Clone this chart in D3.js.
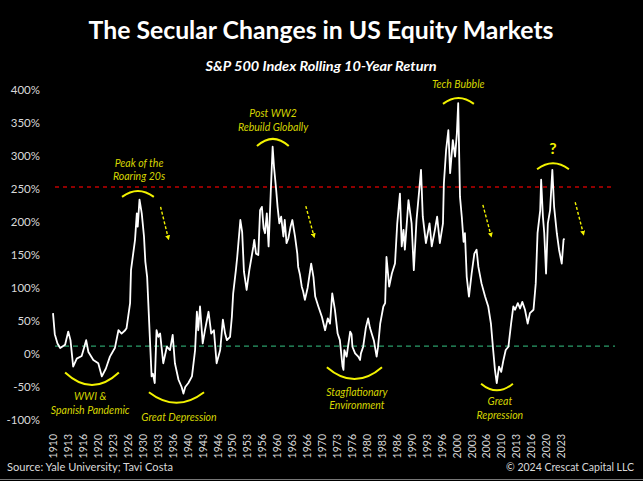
<!DOCTYPE html>
<html><head><meta charset="utf-8">
<script src="https://cdn.jsdelivr.net/npm/d3@7/dist/d3.min.js"></script>
<style>html,body{margin:0;padding:0;background:#000;}svg{display:block;}</style>
</head><body>
<script>
// ---- data ----
const years = [1910.0,1910.4,1911.0,1911.6,1912.7,1913.4,1913.9,1914.5,1915.3,1916.4,1917.4,1917.9,1919.0,1920.1,1920.9,1921.8,1922.7,1923.8,1924.6,1925.3,1926.1,1926.4,1927.2,1927.4,1928.3,1928.7,1928.9,1929.3,1929.8,1930.3,1930.6,1931.0,1931.6,1932.0,1932.3,1932.7,1933.1,1933.5,1933.9,1934.6,1935.4,1936.1,1936.7,1937.2,1938.0,1938.7,1939.1,1939.5,1940.2,1941.0,1941.7,1942.1,1942.4,1942.8,1943.4,1943.9,1944.7,1945.3,1945.9,1946.5,1947.3,1947.9,1948.4,1948.8,1949.5,1949.9,1950.2,1950.8,1951.1,1951.8,1952.2,1952.6,1953.2,1953.8,1954.3,1954.7,1954.9,1955.3,1955.8,1956.2,1956.6,1957.0,1957.3,1957.7,1958.1,1958.6,1959.0,1959.3,1959.8,1960.1,1960.5,1960.9,1961.4,1961.7,1962.1,1962.5,1963.0,1963.4,1964.0,1964.5,1964.7,1965.1,1965.5,1965.8,1966.2,1966.8,1967.6,1968.1,1968.5,1969.2,1970.0,1970.7,1971.3,1971.8,1972.3,1972.9,1973.5,1974.0,1974.6,1974.8,1975.0,1975.5,1976.3,1976.6,1976.8,1977.4,1978.1,1978.5,1978.7,1979.2,1979.8,1980.3,1980.7,1981.1,1981.6,1982.2,1982.5,1983.0,1983.7,1984.1,1984.4,1985.0,1985.6,1986.3,1986.8,1987.4,1987.8,1988.2,1988.5,1989.3,1989.7,1990.0,1990.5,1991.1,1991.7,1992.1,1992.5,1993.2,1994.0,1994.5,1995.2,1995.7,1996.3,1997.0,1997.2,1997.7,1998.2,1998.6,1999.2,1999.7,2000.1,2000.4,2000.8,2001.2,2001.6,2001.9,2002.3,2002.8,2003.4,2004.0,2004.5,2004.9,2005.6,2006.4,2007.1,2007.7,2008.2,2008.6,2009.0,2009.5,2010.0,2010.5,2011.0,2011.6,2012.2,2012.7,2013.1,2013.7,2014.2,2014.7,2015.3,2015.9,2016.4,2017.2,2017.7,2018.1,2018.7,2018.9,2019.3,2019.6,2020.0,2020.4,2020.9,2021.4,2021.8,2022.4,2022.9,2023.5,2023.9,2024.1];
const returns = [62,30,16,9,14,34,21,-19,-7,-3,21,3,-9,-14,-34,-22,-4,9,36,31,36,39,77,127,173,213,193,234,213,178,140,117,26,-34,-30,-44,36,26,31,-14,11,6,29,-14,-39,-50,-60,-50,-44,-34,6,64,36,72,16,36,64,31,36,-14,6,52,31,21,26,56,92,127,147,203,185,125,97,127,147,163,173,152,150,218,223,190,183,213,163,248,314,284,248,223,198,208,178,203,168,175,193,203,178,152,132,120,102,95,82,100,137,117,87,72,56,36,54,46,92,67,31,21,-19,-24,6,-4,34,30,11,1,-4,-9,1,11,40,54,40,31,20,-4,10,46,72,77,147,102,122,137,198,243,163,188,158,233,213,198,127,203,248,279,208,168,198,163,188,208,168,198,258,309,339,274,324,299,334,380,238,208,170,183,117,87,122,152,158,132,107,87,72,46,6,-24,-44,-19,-27,-9,6,11,46,72,67,77,69,79,67,46,62,67,107,183,218,264,208,183,122,198,218,279,223,183,158,137,173,175];
const yTickValues = [-100,-50,0,50,100,150,200,250,300,350,400];
const xTickLabels = ["1910","1913","1916","1920","1923","1926","1930","1933","1936","1940","1943","1946","1950","1953","1956","1960","1963","1966","1970","1973","1976","1980","1983","1986","1990","1993","1996","2000","2003","2006","2010","2013","2016","2020","2023"];
const secularHigh = 253;
const secularLow = 12;

// annotations (data coordinates)
const arcs = [
  {x0:1925.4,x1:1932.5,yEnd:238,yApex:247},
  {x0:1912.7,x1:1924.7,yEnd:-28,yApex:-47},
  {x0:1931.4,x1:1943.7,yEnd:-58,yApex:-74},
  {x0:1955.5,x1:1962.6,yEnd:315,yApex:326},
  {x0:1971.1,x1:1983.4,yEnd:-20,yApex:-38},
  {x0:1997.0,x1:2003.9,yEnd:379,yApex:388},
  {x0:2005.5,x1:2012.6,yEnd:-45,yApex:-55},
  {x0:2018.0,x1:2025.1,yEnd:280,yApex:289}
];
const labels = [
  {x:1929.2,y:284,t:"Peak of the"},{x:1929.2,y:264,t:"Roaring 20s"},
  {x:1918.3,y:-70,t:"WWI &"},{x:1918.3,y:-91,t:"Spanish Pandemic"},
  {x:1938.1,y:-101,t:"Great Depression"},
  {x:1959.1,y:359,t:"Post WW2"},{x:1959.1,y:338,t:"Rebuild Globally"},
  {x:1977.8,y:-63,t:"Stagflationary"},{x:1977.8,y:-84,t:"Environment"},
  {x:2000.4,y:403,t:"Tech Bubble"},
  {x:2009.7,y:-78,t:"Great"},{x:2009.7,y:-99,t:"Repression"}
];
const arrows = [
  {x0:1934.0,y0:223,x1:1935.7,y1:176},
  {x0:1966.4,y0:224,x1:1968.2,y1:179},
  {x0:2005.9,y0:226,x1:2007.7,y1:180},
  {x0:2026.5,y0:230,x1:2028.3,y1:183}
];

// ---- drawing ----
const W = 643, H = 481;
const svg = d3.select("body").append("svg").attr("width", W).attr("height", H)
  .style("background", "#000");
const FONT = "Lato, 'Open Sans', sans-serif";

const lastYear = 1910 + (xTickLabels.length - 1) * 40 / 12;
const x = d3.scaleLinear().domain([1910, lastYear]).range([53, 561]);
const xp = d3.scalePoint().domain(xTickLabels).range([53, 561]);
const y = d3.scaleLinear().domain([-100, 400]).range([420, 90]);

// title
svg.append("text").attr("x", 321).attr("y", 39).attr("text-anchor", "middle")
  .attr("font-family", FONT).attr("font-weight", "bold").attr("font-size", 25)
  .attr("fill", "#fff").attr("textLength", 465).attr("lengthAdjust", "spacingAndGlyphs")
  .text("The Secular Changes in US Equity Markets");
svg.append("text").attr("x", 321).attr("y", 71).attr("text-anchor", "middle")
  .attr("font-family", FONT).attr("font-weight", "bold").attr("font-style", "italic").attr("font-size", 13)
  .attr("fill", "#fff").attr("textLength", 231).attr("lengthAdjust", "spacingAndGlyphs")
  .text("S&P 500 Index Rolling 10-Year Return");

// y axis
const yAxis = d3.axisLeft(y).tickValues(yTickValues).tickFormat(d => d + "%").tickSize(0).tickPadding(0);
const gy = svg.append("g").attr("transform", "translate(40,0)").call(yAxis);
gy.select(".domain").remove();
gy.selectAll("text").attr("font-family", FONT).attr("font-size", 11.5).attr("fill", "#d9d9d9");

// x axis
const xAxis = d3.axisBottom(xp).tickSize(0).tickPadding(0);
const gx = svg.append("g").attr("transform", "translate(0,433)").call(xAxis);
gx.select(".domain").remove();
gx.selectAll("text").attr("font-family", FONT).attr("font-size", 10.5).attr("fill", "#d9d9d9")
  .attr("transform", "rotate(-90)").attr("text-anchor", "end").attr("dy", "0.35em").attr("x", -1).attr("y", 0);

// reference lines
svg.append("line").attr("x1", 55).attr("x2", 615).attr("y1", y(secularHigh)).attr("y2", y(secularHigh))
  .attr("stroke", "#c00000").attr("stroke-width", 1.5).attr("stroke-dasharray", "4,4");
svg.append("line").attr("x1", 55).attr("x2", 615).attr("y1", y(secularLow)).attr("y2", y(secularLow))
  .attr("stroke", "#2a9d6a").attr("stroke-width", 1.3).attr("stroke-dasharray", "5,4");

// series
const pts = years.map((yr, i) => [yr, returns[i]]);
svg.append("path").datum(pts)
  .attr("d", d3.line().x(d => x(d[0])).y(d => y(d[1])))
  .attr("fill", "none").attr("stroke", "#fff").attr("stroke-width", 1.8).attr("stroke-linejoin", "round");

// annotations
const YEL = "#f2f200";
svg.selectAll(".arc").data(arcs).join("path")
  .attr("d", a => {
    const x0 = x(a.x0), x1 = x(a.x1), ye = y(a.yEnd), ya = y(a.yApex);
    return `M${x0},${ye} Q${(x0 + x1) / 2},${2 * ya - ye} ${x1},${ye}`;
  })
  .attr("fill", "none").attr("stroke", YEL).attr("stroke-width", 2);

svg.selectAll(".lbl").data(labels).join("text")
  .attr("x", d => x(d.x)).attr("y", d => y(d.y)).attr("text-anchor", "middle")
  .attr("font-family", FONT).attr("font-style", "italic").attr("font-size", 10.5)
  .attr("fill", "#d6d600").text(d => d.t);

svg.append("text").attr("x", x(2021.55)).attr("y", y(303)).attr("text-anchor", "middle")
  .attr("font-family", FONT).attr("font-weight", "bold").attr("font-size", 16)
  .attr("fill", YEL).text("?");

svg.append("defs").append("marker").attr("id", "ah").attr("viewBox", "0 0 10 10")
  .attr("refX", 5).attr("refY", 5).attr("markerWidth", 5).attr("markerHeight", 5)
  .attr("orient", "auto").attr("markerUnits", "userSpaceOnUse")
  .append("path").attr("d", "M0,0 L10,5 L0,10 z").attr("fill", YEL);
svg.selectAll(".arr").data(arrows).join("line")
  .attr("x1", d => x(d.x0)).attr("y1", d => y(d.y0)).attr("x2", d => x(d.x1)).attr("y2", d => y(d.y1))
  .attr("stroke", YEL).attr("stroke-width", 1.4).attr("stroke-dasharray", "3,2").attr("marker-end", "url(#ah)");

// footer
svg.append("text").attr("x", 7).attr("y", 471).attr("font-family", FONT).attr("font-size", 11.5)
  .attr("fill", "#d9d9d9").attr("textLength", 166).attr("lengthAdjust", "spacingAndGlyphs")
  .text("Source: Yale University; Tavi Costa");
svg.append("text").attr("x", 634).attr("y", 471).attr("text-anchor", "end").attr("font-family", FONT).attr("font-size", 10.5)
  .attr("fill", "#d9d9d9")
  .text("© 2024 Crescat Capital LLC");
svg.append("line").attr("x1", 0).attr("x2", W).attr("y1", 479.5).attr("y2", 479.5).attr("stroke", "#777").attr("stroke-width", 1);
</script>
</body></html>
